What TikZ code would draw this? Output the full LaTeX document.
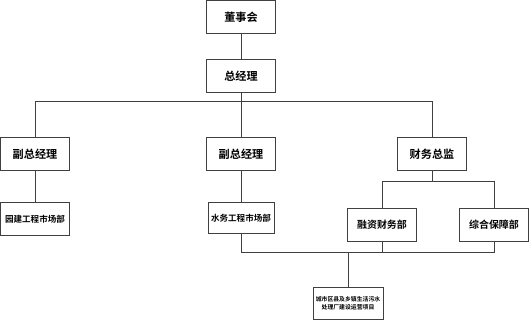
\documentclass[tikz,border=0pt]{standalone}
\usepackage{fontspec}
\usepackage{tikz}
\usetikzlibrary{positioning}
\newfontfamily\cjk[BoldFont={Noto Sans CJK SC Bold}]{Noto Sans CJK SC}
\definecolor{linegray}{rgb}{0.25,0.25,0.25}

\begin{document}
\begin{tikzpicture}[
  x=0.03cm, y=-0.03cm,
  unit/.style={draw=linegray, line width=0.6pt, fill=white, inner sep=1pt, align=center,
    minimum width=2.07cm, minimum height=1cm, font=\cjk\bfseries\fontsize{9.5}{11}\selectfont},
  dept/.style={unit, font=\cjk\bfseries\fontsize{7.3}{9}\selectfont},
  proj/.style={unit, minimum width=2.1cm, minimum height=0.96cm, font=\cjk\bfseries\fontsize{5}{7}\selectfont},
  link/.style={draw=linegray, line width=0.6pt}
]
\useasboundingbox (0,0) rectangle (530,322);
\node[unit] (board) at (241,17) {董事会};
\node[unit] (gm) at (241,76) {总经理};
\node[unit] (vp1) at (35,154) {副总经理};
\node[unit] (vp2) at (241,154) {副总经理};
\node[unit] (cfo) at (432,154) {财务总监};
\node[dept] (garden) at (35,219) {园建工程市场部};
\node[dept, minimum width=1.98cm, minimum height=0.93cm] (water) at (241,218) {水务工程市场部};
\node[unit, font=\cjk\bfseries\fontsize{8.5}{10}\selectfont] (fin) at (382,225) {融资财务部};
\node[unit, font=\cjk\bfseries\fontsize{8.5}{10}\selectfont] (supp) at (494,225) {综合保障部};
\node[proj] (project) at (348,303) {城市区县及乡镇生活污水\\处理厂建设运营项目};
\coordinate (bus1) at (0,101);
\coordinate (bus2) at (0,181);
\coordinate (bus3) at (0,252);
\draw[link] (board) -- (gm);
\draw[link] (gm) -- (vp2);
\draw[link] (vp1.north) -- (vp1.north |- bus1) -- (cfo.north |- bus1) -- (cfo.north);
\draw[link] (vp1) -- (garden);
\draw[link] (vp2) -- (water);
\draw[link] (cfo.south) -- (cfo.south |- bus2);
\draw[link] (fin.north) -- (fin.north |- bus2) -- (supp.north |- bus2) -- (supp.north);
\draw[link] (water.south) -- (water.south |- bus3) -- (supp.south |- bus3) -- (supp.south);
\draw[link] (fin.south) -- (fin.south |- bus3);
\draw[link] (project.north) -- (project.north |- bus3);
\end{tikzpicture}
\end{document}
